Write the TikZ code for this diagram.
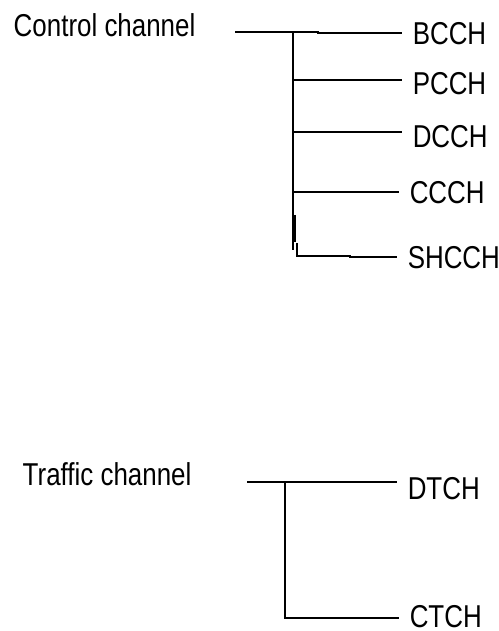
\documentclass[tikz,border=0pt]{standalone}
\usepackage{fontspec}
\setmainfont[FakeStretch=0.82]{Liberation Sans}

\begin{document}
\begin{tikzpicture}[x=0.02cm,y=-0.02cm,line width=0.85pt,
    lbl/.style={inner xsep=0.2cm,inner ysep=0pt,anchor=base west,
                font=\fontsize{18}{21}\selectfont}]
    \useasboundingbox (0,0) rectangle (499,631);
    % Control channel and its logical channels
    \node[lbl] (cc) at (3,37) {Control channel};
    \node[lbl] (bcch) at (402,45) {BCCH};
    \node[lbl] (pcch) at (402,95) {PCCH};
    \node[lbl] (dcch) at (402,148) {DCCH};
    \node[lbl] (ccch) at (399,204) {CCCH};
    \node[lbl] (shcch) at (397,268) {SHCCH};
    % Tree lines
    \coordinate (c0) at (235,32);
    \coordinate (ct) at (293,32);
    \coordinate (cb) at (293,250);
    \coordinate (c1) at (293,80);
    \coordinate (c2) at (293,132);
    \coordinate (c3) at (293,192);
    \coordinate (c4) at (297,243);
    \draw (c0) -- (318,32) -- (318,33) -- (bcch.west |- 0,33);
    \draw (ct) -- (cb);
    \draw[line width=1.6pt] (295,215) -- (295,242);
    \foreach \n/\lab in {1/pcch,2/dcch,3/ccch}
        \draw (c\n) -- (c\n -| \lab.west);
    \draw (c4) -- (297,256) -- (350,256) -- (350,257) -- (shcch.west |- 0,257);

    % Traffic channel
    \node[lbl] (tc) at (12,485) {Traffic channel};
    \node[lbl] (dtch) at (397,499) {DTCH};
    \node[lbl] (ctch) at (399,627) {CTCH};
    \coordinate (t0) at (247,482);
    \coordinate (tt) at (285,482);
    \coordinate (tb) at (285,618);
    \draw (t0) -- (t0 -| dtch.west);
    \draw (tt) -- (tb) -- (tb -| ctch.west);
\end{tikzpicture}
\end{document}
